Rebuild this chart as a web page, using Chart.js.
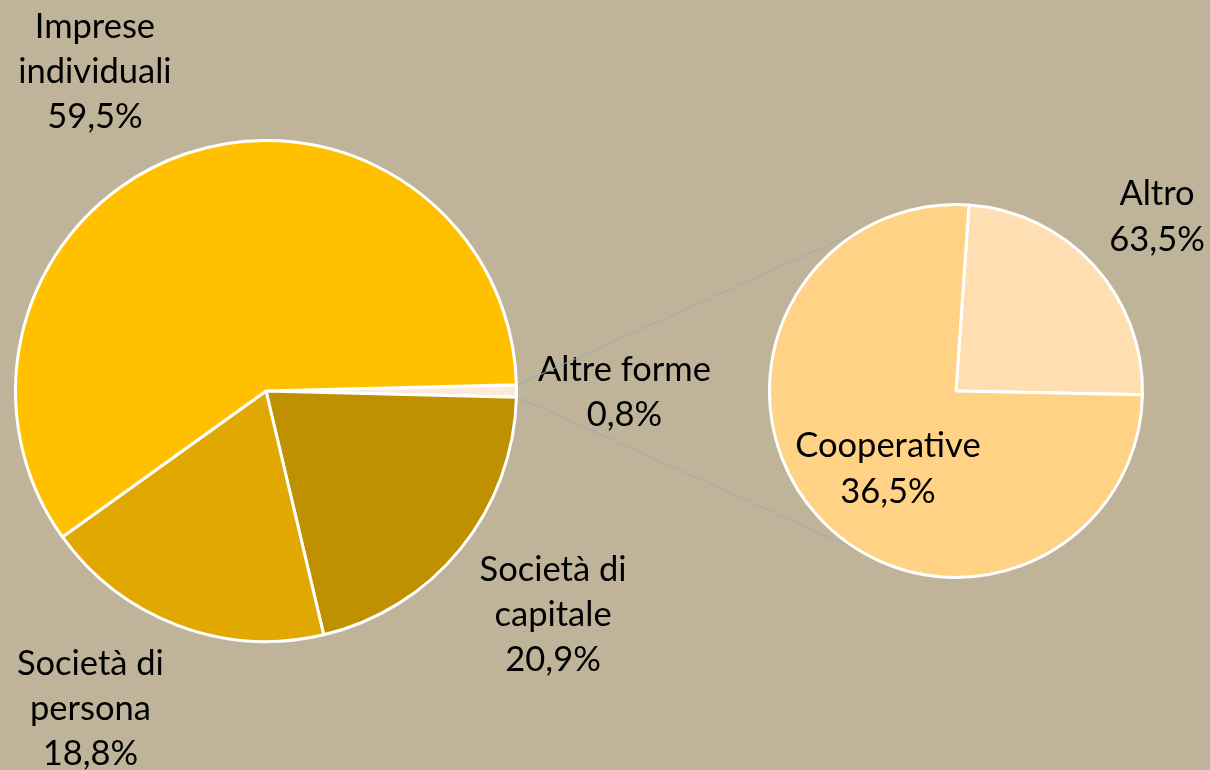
<!DOCTYPE html>
<html>
<head>
<meta charset="utf-8">
<script src="https://cdn.jsdelivr.net/npm/chart.js@4.4.1/dist/chart.umd.min.js"></script>
<style>
  html, body { margin: 0; padding: 0; background: #BFB49A; }
  #wrap { position: relative; width: 1210px; height: 770px; overflow: hidden; }
  #wrap canvas { position: absolute; left: 0; top: 0; }
</style>
</head>
<body>
<div id="wrap">
  <canvas id="mainPie" width="1210" height="770"></canvas>
  <canvas id="subPie" width="1210" height="770"></canvas>
</div>
<script>
// main pie (clockwise from 3 o'clock)
const mainCategories = ['Altre forme', 'Società di capitale', 'Società di persona', 'Imprese individuali'];
const mainValues = [0.8, 20.9, 18.8, 59.5];
const mainLabelLines = [['Altre forme'], ['Società di', 'capitale'], ['Società di', 'persona'], ['Imprese', 'individuali']];
const mainColors = ['#FEEAD8', '#BF9000', '#E0A800', '#FFC000'];

// secondary pie: slice sizes as drawn, percentages as printed
const subCategories = ['Altro', 'Cooperative'];
const subShares = [24.2, 75.8];
const subPctText = ['63,5%', '36,5%'];
const subColors = ['#FFDFB2', '#FFD285'];

const fmt = v => v.toFixed(1).replace('.', ',') + '%';

const sliceLabels = {
  id: 'sliceLabels',
  afterDatasetsDraw(chart, args, opts) {
    const ctx = chart.ctx;
    const arcs = chart.getDatasetMeta(0).data;
    ctx.save();
    ctx.font = opts.font;
    ctx.fillStyle = '#000';
    ctx.textAlign = 'center';
    ctx.textBaseline = 'alphabetic';
    arcs.forEach((arc, i) => {
      const [fx, fy] = opts.spots[i];
      const x = arc.x + fx * arc.outerRadius;
      let y = arc.y + fy * arc.outerRadius;
      opts.lines[i].forEach(t => {
        ctx.fillText(t, x, y);
        y += opts.lineHeight;
      });
    });
    ctx.restore();
  }
};

let mainChart = null;

const connectors = {
  id: 'connectors',
  beforeDatasetsDraw(chart, args, opts) {
    if (!mainChart) return;
    const src = mainChart.getDatasetMeta(0).data[0];
    const dst = chart.getDatasetMeta(0).data[0];
    const ctx = chart.ctx;
    ctx.save();
    ctx.strokeStyle = '#A4A8B3';
    ctx.lineWidth = 1;
    [[src.startAngle, -1], [src.endAngle, 1]].forEach(([a, s]) => {
      const r = src.outerRadius + 1.5;
      const b = s * opts.angle * Math.PI / 180;
      const rr = dst.outerRadius + 1.5;
      ctx.beginPath();
      ctx.moveTo(src.x + r * Math.cos(a), src.y + r * Math.sin(a));
      ctx.lineTo(dst.x + rr * Math.cos(b), dst.y + rr * Math.sin(b));
      ctx.stroke();
    });
    ctx.restore();
  }
};

const labelFont = '34.5px Lato';

function baseOptions(padding) {
  return {
    responsive: false,
    animation: false,
    devicePixelRatio: 1,
    events: [],
    layout: { padding },
    plugins: { legend: { display: false }, tooltip: { enabled: false } }
  };
}

const mainOpts = baseOptions({ left: 14, right: 692, top: 139, bottom: 127 });
mainOpts.rotation = 90 - mainValues[0] * 3.6 / 2;
mainOpts.plugins.sliceLabels = {
  font: labelFont,
  lineHeight: 45,
  lines: mainCategories.map((c, i) => [...mainLabelLines[i], fmt(mainValues[i])]),
  spots: [[1.431, -0.040], [1.146, 0.758], [-0.701, 1.134], [-0.683, -1.409]]
};

mainChart = new Chart(document.getElementById('mainPie'), {
  type: 'pie',
  data: {
    labels: mainCategories,
    datasets: [{
      data: mainValues,
      backgroundColor: mainColors,
      borderColor: '#FFFFFF',
      borderWidth: 3
    }]
  },
  options: mainOpts,
  plugins: [sliceLabels]
});

const subOpts = baseOptions({ left: 768, right: 66, top: 203, bottom: 191 });
subOpts.rotation = 4;
subOpts.plugins.connectors = { angle: 123.5 };
subOpts.plugins.sliceLabels = {
  font: labelFont,
  lineHeight: 46,
  lines: subCategories.map((c, i) => [c, subPctText[i]]),
  spots: [[1.078, -0.997], [-0.365, 0.354]]
};

new Chart(document.getElementById('subPie'), {
  type: 'pie',
  data: {
    labels: subCategories,
    datasets: [{
      data: subShares,
      backgroundColor: subColors,
      borderColor: '#FFFFFF',
      borderWidth: 3
    }]
  },
  options: subOpts,
  plugins: [connectors, sliceLabels]
});
</script>
</body>
</html>
